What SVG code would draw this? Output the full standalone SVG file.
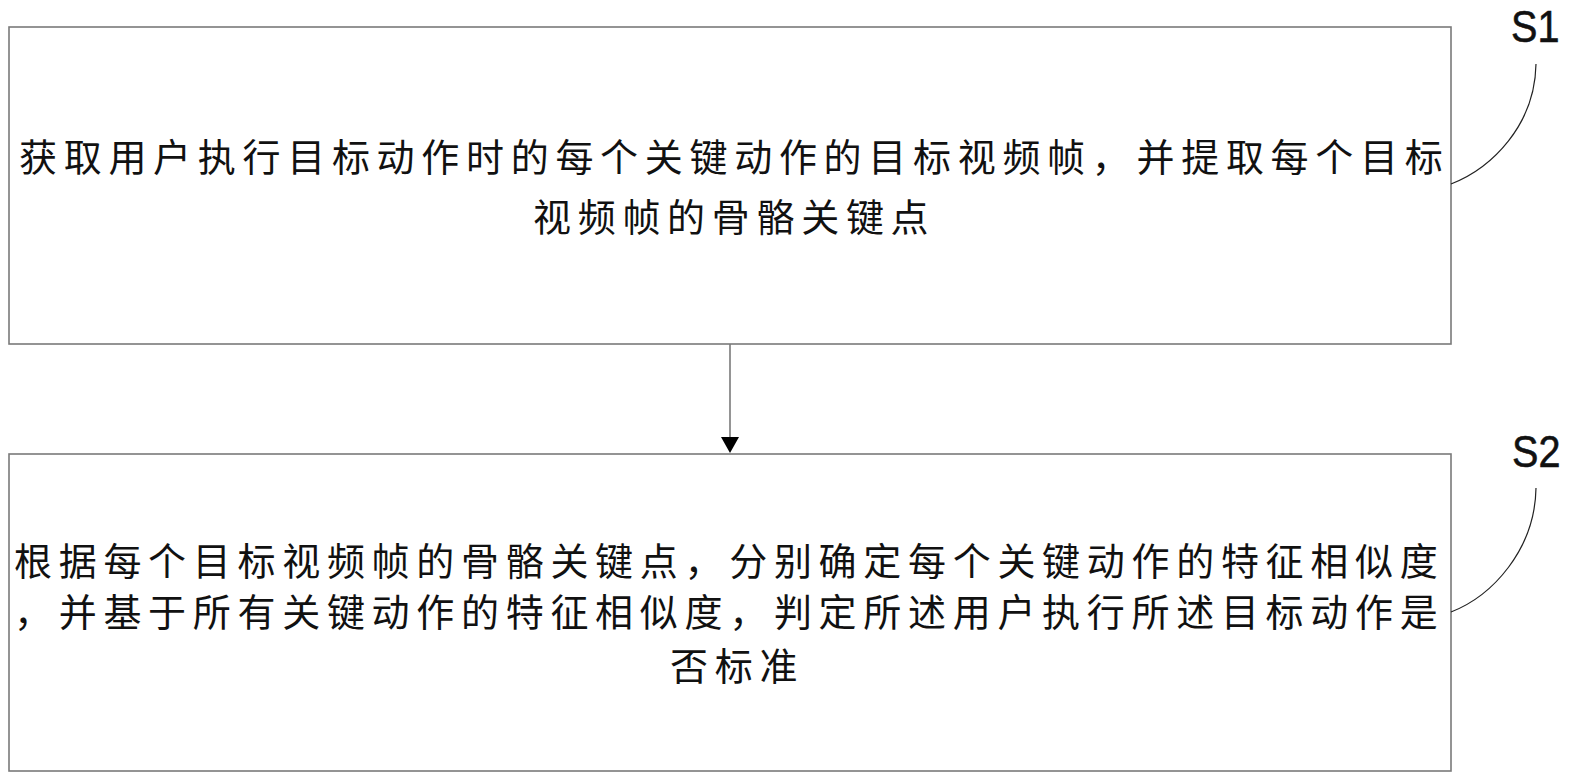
<svg xmlns="http://www.w3.org/2000/svg" width="1571" height="782" viewBox="0 0 1571 782">
<style>
.box{fill:#fff;stroke:#7a7a7a;stroke-width:1.6}
.t{font-family:"Noto Sans CJK SC","Noto Sans CJK JP",sans-serif;font-size:38px;fill:#111;letter-spacing:6.7px}
.lbl{font-family:"Liberation Sans",Arial,sans-serif;font-size:45px;fill:#111;stroke:#111;stroke-width:0.6}
.lead{fill:none;stroke:#222;stroke-width:1.2}
.conn{stroke:#7a7a7a;stroke-width:1.6;fill:none}
</style>
<rect width="1571" height="782" fill="#fff"/>
<g id="node-s1">
<rect class="box" x="9" y="27" width="1442" height="317"/>
<text class="t" x="19" y="171">获取用户执行目标动作时的每个关键动作的目标视频帧，并提取每个目标</text>
<text class="t" x="533" y="231">视频帧的骨骼关键点</text>
</g>
<g id="node-s2">
<rect class="box" x="9" y="454" width="1442" height="317"/>
<text class="t" x="14" y="575">根据每个目标视频帧的骨骼关键点，分别确定每个关键动作的特征相似度</text>
<text class="t" x="14" y="626">，并基于所有关键动作的特征相似度，判定所述用户执行所述目标动作是</text>
<text class="t" x="670" y="680">否标准</text>
</g>
<g id="label-s1">
<text class="lbl" transform="translate(1511,42) scale(0.88,1)">S1</text>
<path class="lead" d="M1451,184 C1492,168 1535,125 1536,64"/>
</g>
<g id="label-s2">
<text class="lbl" transform="translate(1512,467) scale(0.88,1)">S2</text>
<path class="lead" d="M1451,612 C1492,596 1535,550 1536,488"/>
</g>
<g id="connectors">
<line class="conn" x1="730" y1="344" x2="730" y2="437"/>
<path d="M721,437 L739,437 L730,453 Z" fill="#000"/>
</g>
</svg>
